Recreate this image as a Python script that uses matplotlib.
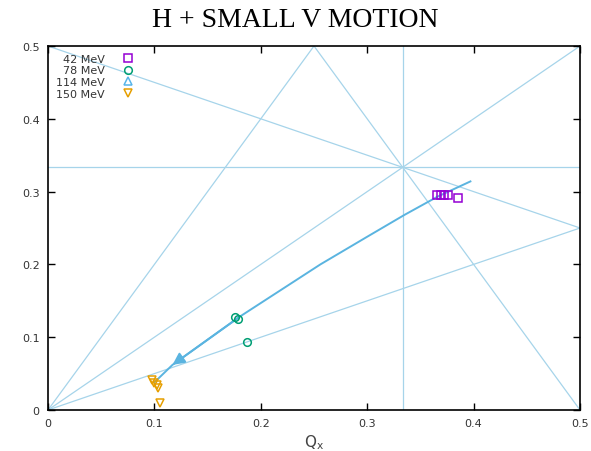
import matplotlib
matplotlib.use("Agg")
import matplotlib.pyplot as plt
import numpy as np

# tune footprint (Qx, Qy) for each energy
qx_42 = [0.366, 0.369, 0.372, 0.376, 0.385]
qy_42 = [0.295, 0.296, 0.296, 0.296, 0.291]
qx_78 = [0.176, 0.179, 0.187]
qy_78 = [0.128, 0.125, 0.093]
qx_114 = []
qy_114 = []
qx_150 = [0.098, 0.100, 0.102, 0.103, 0.105]
qy_150 = [0.041, 0.037, 0.034, 0.030, 0.009]

# tune path drawn with arrow
path_qx = [0.397, 0.366, 0.335, 0.300, 0.256, 0.180, 0.117, 0.100]
path_qy = [0.314, 0.293, 0.268, 0.238, 0.200, 0.128, 0.062, 0.038]

# resonance lines (x0, y0, x1, y1)
res_lines = [
    (0, 0, 0.5, 0.5),
    (0, 0, 0.25, 0.5),
    (0, 0, 0.5, 0.25),
    (0.25, 0.5, 0.5, 0),
    (0, 0.5, 0.5, 0.25),
    (1/3, 0, 1/3, 0.5),
    (0, 1/3, 0.5, 1/3),
]

fig = plt.figure(figsize=(5.91, 4.52), dpi=100)
ax = fig.add_axes([0.0812, 0.0907, 0.9002, 0.8053])

line_c = '#a6d4ea'
for x0, y0, x1, y1 in res_lines:
    ax.plot([x0, x1], [y0, y1], color=line_c, lw=0.9, zorder=1)

arrow_c = '#5ab4e0'
ax.plot(path_qx, path_qy, color=arrow_c, lw=1.4, zorder=2)
ax.annotate('', xy=(path_qx[-2], path_qy[-2]), xytext=(path_qx[-3], path_qy[-3]),
            arrowprops=dict(arrowstyle='-|>', color=arrow_c, lw=1.4,
                            mutation_scale=18, shrinkA=0, shrinkB=0), zorder=3)

ms = 5.5
ax.plot(qx_42, qy_42, 's', mfc='none', mec='#9400d3', ms=ms, mew=1.1, label='42 MeV', zorder=4)
ax.plot(qx_78, qy_78, 'o', mfc='none', mec='#009e73', ms=ms, mew=1.1, label='78 MeV', zorder=4)
ax.plot(qx_114, qy_114, '^', mfc='none', mec='#56b4e9', ms=ms, mew=1.1, label='114 MeV', zorder=4)
ax.plot(qx_150, qy_150, 'v', mfc='none', mec='#e69f00', ms=ms, mew=1.1, label='150 MeV', zorder=4)

ax.set_xlim(0, 0.5)
ax.set_ylim(0, 0.5)
ticks = [0, 0.1, 0.2, 0.3, 0.4, 0.5]
ax.set_xticks(ticks)
ax.set_yticks(ticks)
ax.set_xticklabels(['0', '0.1', '0.2', '0.3', '0.4', '0.5'])
ax.set_yticklabels(['0', '0.1', '0.2', '0.3', '0.4', '0.5'])
ax.tick_params(direction='in', top=True, right=True, length=5, width=1,
               labelsize=8, labelcolor='#333333', pad=6)
for s in ax.spines.values():
    s.set_linewidth(1.2)

ax.set_xlabel(r'Q$_{\rm x}$', fontsize=11, color='#444444', labelpad=3)

leg = ax.legend(loc='upper left', markerfirst=False, frameon=False, fontsize=8,
                handlelength=1.0, handletextpad=1.6, labelspacing=0.15,
                borderaxespad=0.3, bbox_to_anchor=(0.0, 1.0))
for t in leg.get_texts():
    t.set_ha('right')
    t.set_color('#333333')

fig.suptitle('H + SMALL V MOTION', x=0.5, y=0.982, fontsize=20,
             family='Liberation Serif')

fig.savefig('out.png', dpi=100)
